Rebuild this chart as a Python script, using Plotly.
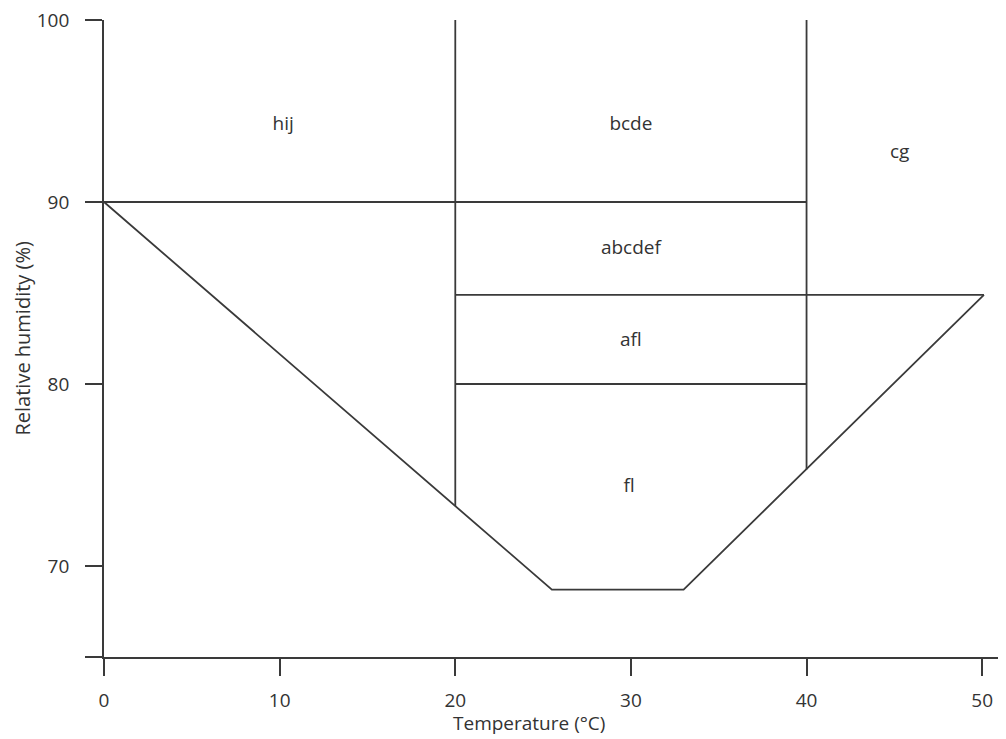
import plotly.graph_objects as go

# Boundary segments (temperature °C, relative humidity %)
boundary_x = [0, 25.5, 33.0, 50.1]
boundary_y = [90, 68.7, 68.7, 84.9]

h90_x = [0, 40];     h90_y = [90, 90]
h849_x = [20, 50.1]; h849_y = [84.9, 84.9]
h80_x = [20, 40];    h80_y = [80, 80]
v20_x = [20, 20];    v20_y = [100, 73.3]
v40_x = [40, 40];    v40_y = [100, 75.3]

label_text = ["hij", "bcde", "cg", "abcdef", "afl", "fl"]
label_x = [10.2, 30.0, 45.3, 30.0, 30.0, 29.9]
label_y = [94.2, 94.2, 92.7, 87.4, 82.35, 74.3]

x_ticks = [0, 10, 20, 30, 40, 50]
y_ticks = [65, 70, 80, 90, 100]
y_ticktext = ["", "70", "80", "90", "100"]

LINE = "#3a3a3a"
TXT = "#333333"
FONT = "Open Sans"

fig = go.Figure()
segments = [(boundary_x, boundary_y), (h90_x, h90_y), (h849_x, h849_y),
            (h80_x, h80_y), (v20_x, v20_y), (v40_x, v40_y)]
for sx, sy in segments:
    fig.add_trace(go.Scatter(x=sx, y=sy, mode="lines",
                             line=dict(color=LINE, width=1.8),
                             hoverinfo="skip", showlegend=False))

fig.add_trace(go.Scatter(x=label_x, y=label_y, text=label_text, mode="text",
                         textfont=dict(family=FONT, size=19, color=TXT),
                         hoverinfo="skip", showlegend=False))

fig.update_layout(
    width=1006, height=739,
    margin=dict(l=104, r=8, t=20, b=82),
    paper_bgcolor="white", plot_bgcolor="white",
    font=dict(family=FONT, size=19, color=TXT),
    showlegend=False,
    annotations=[
        dict(text="Temperature (°C)", xref="x", yref="paper", x=24.2, y=-0.103,
             xanchor="center", yanchor="middle", showarrow=False,
             font=dict(family=FONT, size=19, color=TXT)),
        dict(text="Relative humidity (%)", xref="paper", yref="paper",
             x=-0.0917, y=0.5, textangle=-90, xanchor="center",
             yanchor="middle", showarrow=False,
             font=dict(family=FONT, size=20, color=TXT)),
    ],
)
fig.update_xaxes(
    range=[0, 50.9], tickvals=x_ticks, ticks="outside", ticklen=17,
    tickwidth=1.8, tickcolor=LINE, showline=True, linecolor=LINE, linewidth=1.8,
    showgrid=False, zeroline=False, ticklabelstandoff=8,
    tickfont=dict(family=FONT, size=19, color=TXT),
)
fig.update_yaxes(
    range=[65, 100], tickvals=y_ticks, ticktext=y_ticktext, ticks="outside",
    ticklen=17, tickwidth=1.8, tickcolor=LINE, showline=True, linecolor=LINE,
    linewidth=1.8, showgrid=False, zeroline=False, ticklabelstandoff=12,
    tickfont=dict(family=FONT, size=19, color=TXT),
)

fig.write_html("out.html")
